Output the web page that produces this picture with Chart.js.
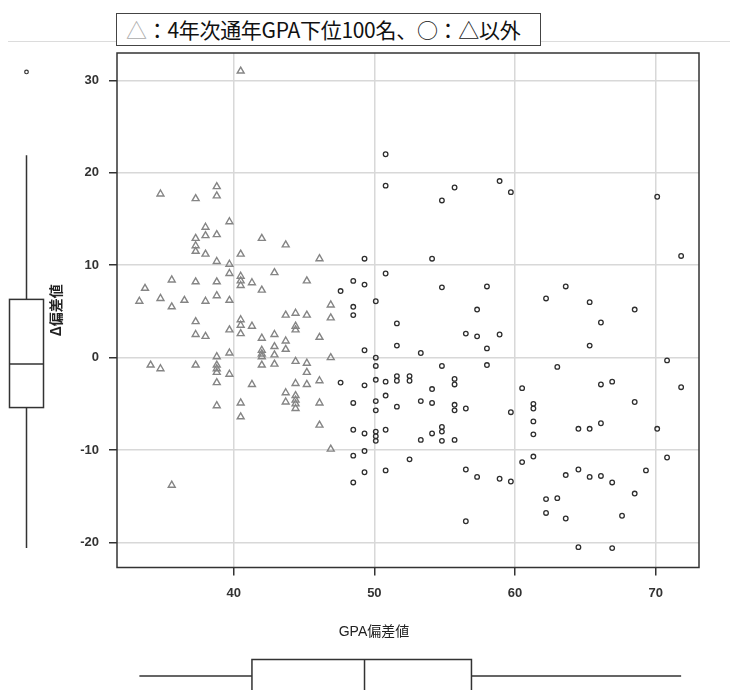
<!DOCTYPE html>
<html>
<head>
<meta charset="utf-8">
<script src="https://cdn.jsdelivr.net/npm/chart.js@4/dist/chart.umd.min.js"></script>
<style>
  html, body { margin: 0; padding: 0; background: #fff; }
  #wrap { position: relative; width: 730px; height: 690px; }
  #legendBox {
    position: absolute; left: 116px; top: 13px; width: 425px; height: 33px;
    box-sizing: border-box; border: 1px solid #444; background: #fff;
    font: 21px "Noto Sans CJK JP", sans-serif; line-height: 30px;
    padding-left: 9px; white-space: nowrap; color: #111; letter-spacing: -0.3px;
  }
  #legendBox .tri { color: #aaa; }
  #xTitle {
    position: absolute; left: 299px; width: 150px; top: 620px; text-align: center;
    font: 14px "Liberation Sans", "Noto Sans CJK JP", sans-serif; color: #222;
  }
</style>
</head>
<body>
<div id="wrap">
  <canvas id="chartGpa" width="730" height="690"></canvas>
  <div id="legendBox"><span class="tri">△</span>：4年次通年GPA下位100名、○：△以外</div>
  <div id="xTitle">GPA偏差値</div>
</div>
<script>
"use strict";

// △ : 4年次通年GPA下位100名  [GPA偏差値, Δ偏差値]
const lowerGroup = [
  [40.5, 31.0], [34.8, 17.7], [37.3, 17.2], [38.8, 18.5], [38.8, 17.5], [39.7, 14.7],
  [38.0, 14.1], [37.3, 12.9], [38.0, 13.2], [38.8, 13.3], [42.0, 12.9], [43.7, 12.2],
  [37.3, 12.1], [37.3, 11.5], [38.0, 11.2], [40.5, 11.2], [38.8, 10.4], [39.7, 10.1],
  [39.7, 9.1], [42.9, 9.2], [40.5, 8.8], [40.5, 8.3], [40.5, 7.8], [41.3, 8.1],
  [42.0, 7.3], [45.2, 8.3], [35.6, 8.4], [37.3, 8.2], [38.8, 8.2], [33.7, 7.5],
  [33.3, 6.1], [34.8, 6.4], [35.6, 5.5], [36.5, 6.2], [38.0, 6.1], [38.8, 6.7],
  [39.7, 6.2], [43.7, 4.6], [44.4, 4.8], [45.2, 4.6], [37.3, 3.9], [40.5, 4.1],
  [40.5, 3.5], [41.3, 3.4], [44.4, 3.4], [44.4, 3.0], [37.3, 2.5], [38.0, 2.3],
  [39.7, 3.0], [40.5, 2.6], [42.9, 2.5], [42.0, 2.1], [43.7, 1.8], [42.9, 1.2],
  [43.7, 0.9], [42.0, 0.8], [42.0, 0.4], [42.0, 0.1], [42.9, 0.3], [39.7, 0.5],
  [38.8, 0.1], [42.0, -0.8], [42.9, -0.7], [44.4, -0.4], [45.2, -0.6], [34.1, -0.8],
  [34.8, -1.2], [37.3, -0.8], [38.8, -0.8], [38.8, -1.2], [38.8, -1.6], [39.7, -1.8],
  [45.2, -1.6], [38.8, -2.7], [41.3, -2.9], [44.4, -2.8], [45.2, -2.9], [43.7, -3.8],
  [44.4, -4.1], [38.8, -5.2], [40.5, -4.9], [40.5, -6.4], [43.7, -4.8], [44.4, -4.6],
  [44.4, -5.0], [44.4, -5.5], [35.6, -13.8], [46.1, 10.7], [46.9, 5.7], [46.9, 4.3],
  [46.1, 2.2], [46.9, 0.0], [46.1, -2.5], [46.1, -4.9], [46.1, -7.3], [46.9, -9.9]
];

// ○ : △以外
const otherGroup = [
  [50.8, 22.0], [50.8, 18.6], [55.7, 18.4], [54.8, 17.0], [58.9, 19.1], [49.3, 10.7],
  [54.1, 10.7], [48.5, 8.3], [49.3, 7.9], [47.6, 7.2], [50.8, 9.1], [54.8, 7.6],
  [58.0, 7.7], [48.5, 5.5], [50.1, 6.1], [48.5, 4.6], [57.3, 5.2], [51.6, 3.7],
  [56.5, 2.6], [57.3, 2.3], [58.9, 2.5], [49.3, 0.8], [51.6, 1.3], [53.3, 0.5],
  [58.0, 1.0], [50.1, 0.0], [50.1, -0.9], [54.8, -0.9], [58.0, -0.8], [47.6, -2.7],
  [49.3, -3.0], [50.1, -2.4], [50.8, -2.6], [51.6, -2.0], [51.6, -2.5], [52.5, -2.0],
  [52.5, -2.5], [55.7, -2.3], [55.7, -2.9], [54.1, -3.4], [48.5, -4.9], [50.1, -4.7],
  [50.1, -5.7], [50.8, -4.1], [51.6, -5.3], [53.3, -4.7], [54.1, -4.9], [55.7, -5.1],
  [55.7, -5.7], [56.5, -5.5], [48.5, -7.8], [49.3, -8.2], [50.1, -8.0], [50.1, -8.5],
  [50.1, -9.0], [50.8, -7.8], [53.3, -8.9], [54.1, -8.2], [54.8, -7.5], [54.8, -8.0],
  [54.8, -9.0], [55.7, -8.9], [48.5, -10.6], [49.3, -10.1], [52.5, -11.0], [49.3, -12.4],
  [50.8, -12.2], [48.5, -13.5], [56.5, -12.1], [57.3, -12.9], [58.9, -13.1], [56.5, -17.7],
  [59.7, 17.9], [70.1, 17.4], [71.8, 11.0], [63.6, 7.7], [62.2, 6.4], [65.3, 6.0],
  [68.5, 5.2], [66.1, 3.8], [65.3, 1.3], [70.8, -0.3], [63.0, -1.0], [60.5, -3.3],
  [66.1, -2.9], [66.9, -2.6], [71.8, -3.2], [68.5, -4.8], [61.3, -5.0], [61.3, -5.5],
  [59.7, -5.9], [61.3, -6.9], [61.3, -8.3], [64.5, -7.7], [65.3, -7.7], [66.1, -7.1],
  [70.1, -7.7], [60.5, -11.3], [61.3, -10.7], [70.8, -10.8], [59.7, -13.4], [63.6, -12.7],
  [64.5, -12.1], [65.3, -12.9], [66.1, -12.8], [66.9, -13.5], [69.3, -12.2], [68.5, -14.7],
  [62.2, -15.3], [63.0, -15.2], [62.2, -16.8], [63.6, -17.4], [67.6, -17.1], [64.5, -20.5],
  [66.9, -20.6]
];

// box plots: [min, Q1, median, Q3, max]
const deltaBox = [-20.6, -5.4, -0.7, 6.3, 21.9];
const deltaOutliers = [30.9];
const gpaBox = [33.3, 41.3, 49.3, 56.9, 71.8];

const xTicks = [40, 50, 60, 70];
const yTicks = [-20, -10, 0, 10, 20, 30];

const toPoints = arr => arr.map(([x, y]) => ({ x, y }));

const INK = "#333";

const framePlugin = {
  id: "frameAndBoxes",
  beforeDraw(chart) {
    const ctx = chart.ctx;
    ctx.save();
    ctx.strokeStyle = "#dcdcdc";
    ctx.lineWidth = 1;
    ctx.beginPath();
    ctx.moveTo(8, 41.5);
    ctx.lineTo(730, 41.5);
    ctx.stroke();
    ctx.restore();
  },
  beforeDatasetsDraw(chart) {
    const { ctx, chartArea: a } = chart;
    ctx.save();
    ctx.strokeStyle = INK;
    ctx.lineWidth = 1.5;
    ctx.strokeRect(a.left, a.top, a.right - a.left, a.bottom - a.top);
    ctx.restore();
  },
  afterDraw(chart) {
    const ctx = chart.ctx;
    const ys = chart.scales.y;
    const xs = chart.scales.x;
    ctx.save();
    ctx.strokeStyle = INK;
    ctx.lineWidth = 1.5;

    // vertical box plot (Δ偏差値)
    const [lo, q1, md, q3, hi] = deltaBox.map(v => ys.getPixelForValue(v));
    const cx = 26.5, bx0 = 9.5, bx1 = 43.5;
    ctx.strokeRect(bx0, q3, bx1 - bx0, q1 - q3);
    ctx.beginPath();
    ctx.moveTo(bx0, md); ctx.lineTo(bx1, md);
    ctx.moveTo(cx, hi); ctx.lineTo(cx, q3);
    ctx.moveTo(cx, q1); ctx.lineTo(cx, lo);
    ctx.stroke();
    ctx.lineWidth = 1.2;
    deltaOutliers.forEach(v => {
      ctx.beginPath();
      ctx.arc(cx, ys.getPixelForValue(v), 1.8, 0, Math.PI * 2);
      ctx.stroke();
    });

    // horizontal box plot (GPA偏差値)
    ctx.lineWidth = 1.5;
    const [xlo, xq1, xmd, xq3, xhi] = gpaBox.map(v => xs.getPixelForValue(v));
    const by0 = 659.5, by1 = 700, wy = 676;
    ctx.beginPath();
    ctx.moveTo(xq1, by1); ctx.lineTo(xq1, by0); ctx.lineTo(xq3, by0); ctx.lineTo(xq3, by1);
    ctx.moveTo(xmd, by0); ctx.lineTo(xmd, by1);
    ctx.moveTo(xlo, wy); ctx.lineTo(xq1, wy);
    ctx.moveTo(xq3, wy); ctx.lineTo(xhi, wy);
    ctx.stroke();
    ctx.restore();
  }
};

const tickFont = { family: "'Liberation Sans', Arial, sans-serif", size: 13, weight: "bold" };
const gridOpts = {
  color: "#d8d8d8",
  lineWidth: 1.5,
  tickColor: INK,
  tickWidth: 1.5,
  tickLength: 8
};

new Chart(document.getElementById("chartGpa").getContext("2d"), {
  type: "scatter",
  data: {
    datasets: [
      {
        label: "4年次通年GPA下位100名",
        data: toPoints(lowerGroup),
        pointStyle: "triangle",
        pointRadius: 4,
        borderColor: "#858585",
        backgroundColor: "rgba(0,0,0,0)",
        borderWidth: 1.4
      },
      {
        label: "△以外",
        data: toPoints(otherGroup),
        pointStyle: "circle",
        pointRadius: 2.3,
        borderColor: "#2e2e2e",
        backgroundColor: "rgba(0,0,0,0)",
        borderWidth: 1.3
      }
    ]
  },
  options: {
    responsive: false,
    animation: false,
    layout: { padding: { left: 40, top: 53, right: 31, bottom: 82.5 } },
    plugins: {
      legend: { display: false },
      tooltip: { enabled: false }
    },
    scales: {
      x: {
        type: "linear",
        min: 31.71,
        max: 73.07,
        afterBuildTicks: s => { s.ticks = xTicks.map(v => ({ value: v })); },
        afterFit: s => { s.height = 40; },
        grid: gridOpts,
        border: { display: false },
        ticks: { font: tickFont, color: INK, padding: 10, maxRotation: 0 }
      },
      y: {
        type: "linear",
        min: -22.7,
        max: 32.95,
        afterBuildTicks: s => { s.ticks = yTicks.map(v => ({ value: v })); },
        afterFit: s => { s.width = 77; },
        grid: gridOpts,
        border: { display: false },
        ticks: { font: tickFont, color: INK, padding: 10 },
        title: {
          display: true,
          text: "Δ偏差値",
          color: "#222",
          font: { family: "'Noto Sans CJK JP', sans-serif", size: 14, weight: "bold" },
          padding: { top: 7, bottom: 0 }
        }
      }
    }
  },
  plugins: [framePlugin]
});
</script>
</body>
</html>
